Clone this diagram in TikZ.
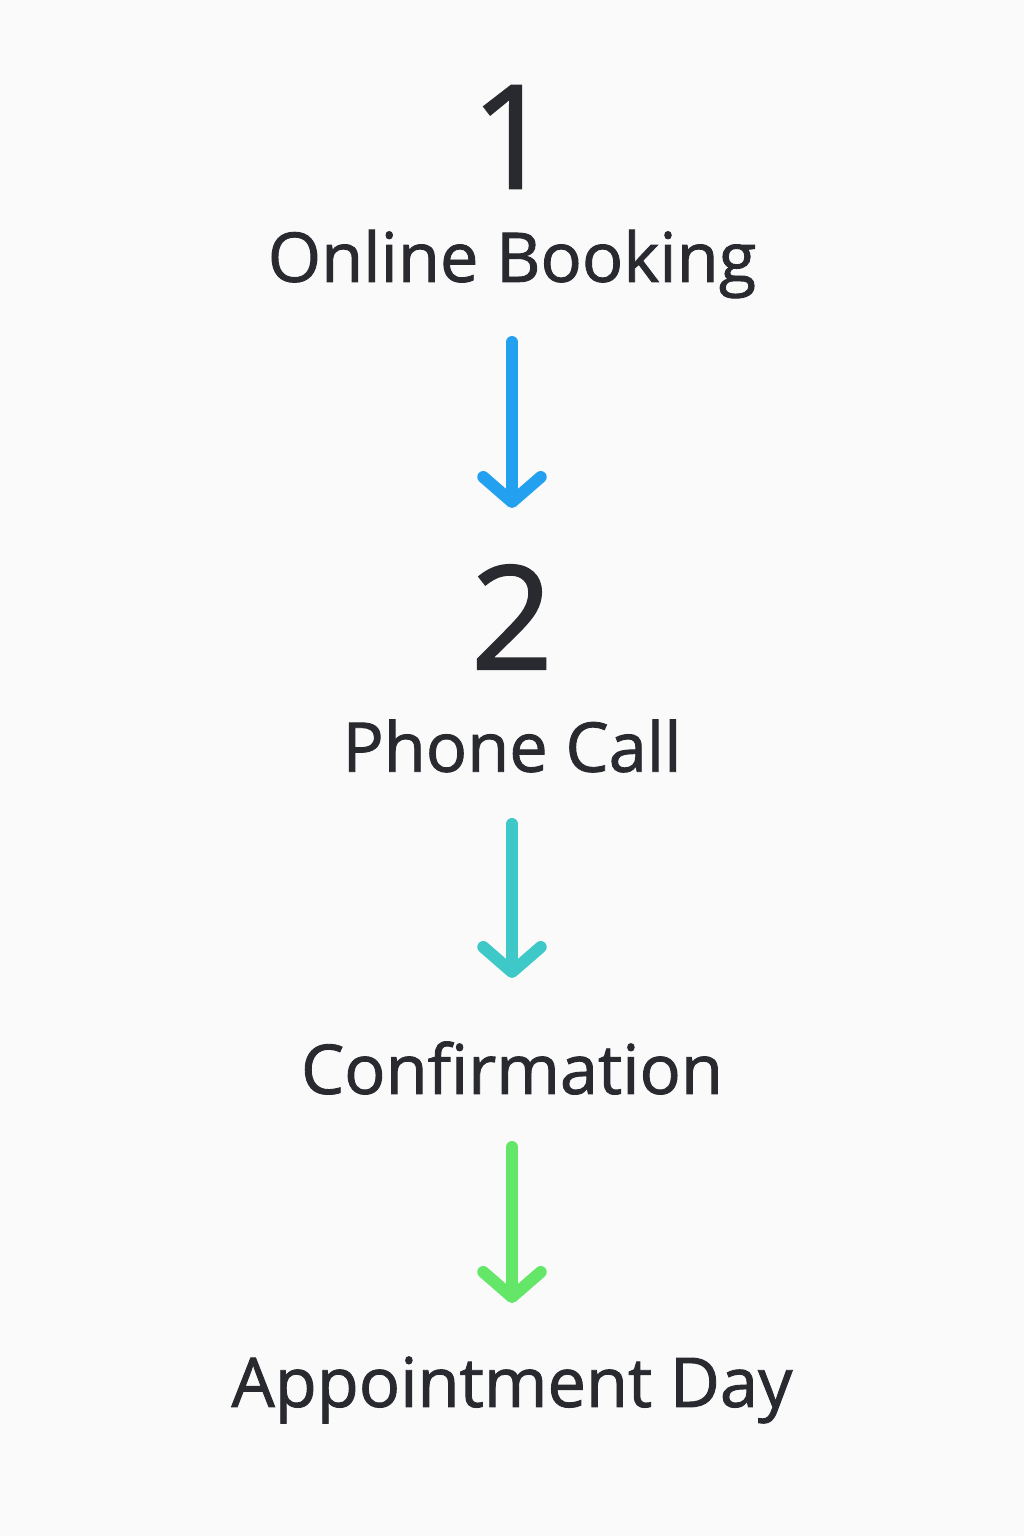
\documentclass[tikz,border=0pt]{standalone}
\usepackage{fontspec}
\setmainfont{Open Sans}
\newfontfamily\medfont[FakeBold=1.3]{Open Sans}
\usetikzlibrary{arrows.meta}
\definecolor{ink}{RGB}{40,42,48}
\definecolor{flowA}{RGB}{36,160,240}
\definecolor{flowB}{RGB}{62,200,200}
\definecolor{flowC}{RGB}{100,230,105}
\begin{document}
\begin{tikzpicture}[
      x=0.02cm,y=-0.02cm,
      num/.style={text=ink,font=\fontsize{82}{82}\medfont,inner sep=0pt},
      stage/.style={text=ink,font=\fontsize{39}{39}\medfont,inner sep=0pt},
      flow/.style={line width=0.24cm,line cap=round,
        -{Straight Barb[length=0.5cm,width=1.15cm,round]}},
      ]
      \fill[white!98!black] (0,0) rectangle (1024,1536);
      \node[num] (n1) at (512,137) {1};
      \node[stage] (online) at (512,264) {Online Booking};
      \node[num] (n2) at (512,617) {2};
      \node[stage] (phone) at (512,746) {Phone Call};
      \node[stage] (confirm) at (512,1068) {Confirmation};
      \node[stage] (day) at (512,1390) {Appointment Day};

      \coordinate (s1) at (512,342);
      \coordinate (e1) at (512,508);
      \coordinate (s2) at (512,824);
      \coordinate (e2) at (512,978);
      \coordinate (s3) at (512,1147);
      \coordinate (e3) at (512,1303);
      \draw[flow,flowA] (s1) -- (e1);
      \draw[flow,flowB] (s2) -- (e2);
      \draw[flow,flowC] (s3) -- (e3);
    \end{tikzpicture}
\end{document}
